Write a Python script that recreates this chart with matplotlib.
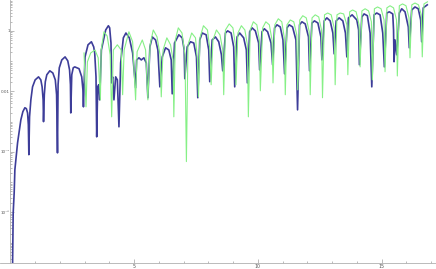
import numpy as np
import matplotlib
matplotlib.use("Agg")
import matplotlib.pyplot as plt
from matplotlib.ticker import FixedLocator, NullFormatter, LogLocator

# Dark blue curve: x values and log10(y) values
blue_x = [
    0.055, 0.089, 0.113, 0.153, 0.181, 0.290, 0.423, 0.504, 0.585, 0.645, 0.694,
    0.726, 0.746,
    0.774, 0.827, 0.895, 1.000, 1.137, 1.230, 1.282, 1.323, 1.339,
    1.371, 1.411, 1.472, 1.593, 1.714, 1.815, 1.867, 1.903,
    1.927, 1.976, 2.077, 2.210, 2.319, 2.391, 2.427, 2.440,
    2.480, 2.540, 2.601, 2.774, 2.883, 2.931, 2.952,
    2.984, 3.016, 3.137, 3.274, 3.367, 3.407, 3.460, 3.488,
    3.528, 3.569, 3.609,
    3.677, 3.851, 3.960, 4.012, 4.065, 4.093,
    4.133, 4.185, 4.254, 4.323, 4.387,
    4.456, 4.565, 4.669, 4.806, 4.940, 5.060,
    5.101, 5.194, 5.290, 5.395, 5.492, 5.556,
    5.637, 5.734, 5.867, 5.960, 6.040,
    6.137, 6.270, 6.403, 6.500, 6.540,
    6.633, 6.806, 6.944, 7.024, 7.048,
    7.145, 7.278, 7.411, 7.520, 7.573,
    7.653, 7.750, 7.911, 8.016, 8.056,
    8.153, 8.286, 8.419, 8.528, 8.581,
    8.690, 8.782, 8.919, 9.024, 9.065,
    9.161, 9.266, 9.427, 9.536, 9.577,
    9.669, 9.766, 9.899, 10.032, 10.073,
    10.169, 10.262, 10.395, 10.532, 10.597,
    10.677, 10.774, 10.907, 11.016, 11.081,
    11.177, 11.270, 11.403, 11.540, 11.605,
    11.685, 11.782, 11.915, 12.048, 12.089,
    12.185, 12.290, 12.427, 12.548, 12.589,
    12.681, 12.790, 12.923, 13.032, 13.085,
    13.165, 13.286, 13.435, 13.540, 13.597,
    13.661, 13.810, 14.000, 14.073, 14.105,
    14.202, 14.294, 14.427, 14.536, 14.605,
    14.698, 14.806, 14.940, 15.048, 15.113,
    15.210, 15.315, 15.452, 15.484, 15.504,
    15.544, 15.613,
    15.718, 15.815, 15.948, 16.081, 16.121,
    16.218, 16.351, 16.484, 16.581, 16.621,
    16.685, 16.794, 16.847,
]
blue_logy = [
    -9.0, -7.66, -6.01, -5.35, -4.59, -3.70, -2.94, -2.67, -2.54, -2.57, -2.71,
    -3.10, -4.09,
    -2.84, -2.28, -1.85, -1.62, -1.52, -1.62, -1.85, -2.28, -3.00,
    -2.11, -1.68, -1.45, -1.32, -1.39, -1.62, -2.11, -4.03,
    -1.78, -1.22, -0.96, -0.86, -0.99, -1.29, -1.78, -2.71,
    -1.45, -1.22, -1.19, -1.25, -1.52, -1.95, -2.51,
    -1.62, -0.86, -0.46, -0.36, -0.53, -0.73, -1.52, -3.50,
    -1.85, -1.78, -2.28,
    -0.63, 0.03, 0.17, 0.10, -0.40, -1.72,
    -1.52, -2.28, -1.52, -1.62, -3.17,
    -1.06, -0.23, -0.07, -0.23, -0.73, -1.88,
    -0.96, -0.89, -0.96, -0.89, -1.06, -2.21,
    -0.53, -0.20, -0.30, -0.63, -1.85,
    -0.86, -0.56, -0.63, -0.96, -2.08,
    -0.40, -0.13, -0.23, -0.63, -1.58,
    -0.53, -0.36, -0.40, -0.86, -2.21,
    -0.30, -0.07, -0.13, -0.63, -1.68,
    -0.30, -0.20, -0.36, -0.79, -1.32,
    -0.07, 0.00, -0.07, -0.53, -1.85,
    -0.20, -0.07, -0.23, -0.63, -1.72,
    -0.03, 0.10, 0.00, -0.40, -1.29,
    -0.03, 0.07, -0.03, -0.40, -1.12,
    0.10, 0.20, 0.13, -0.30, -1.42,
    0.10, 0.20, 0.13, -0.30, -2.61,
    0.20, 0.30, 0.23, -0.20, -1.32,
    0.26, 0.33, 0.26, -0.20, -0.96,
    0.33, 0.43, 0.33, -0.07, -0.76,
    0.33, 0.43, 0.33, -0.07, -0.86,
    0.43, 0.53, 0.36, 0.03, -1.12,
    0.46, 0.56, 0.50, -0.07, -1.85,
    0.53, 0.59, 0.53, -0.07, -1.19,
    0.59, 0.63, 0.56, 0.03, -1.02,
    -0.30, -0.79,
    0.59, 0.73, 0.63, 0.13, -0.56,
    0.69, 0.79, 0.73, 0.36, -0.36,
    0.76, 0.83, 0.86,
]

# Light green curve (starts near x = 3)
green_x = [
    2.976, 3.056,
    3.113, 3.246, 3.419, 3.548, 3.637,
    3.669, 3.782, 3.911, 4.032, 4.093,
    4.161, 4.323, 4.476, 4.536,
    4.597, 4.790, 4.940, 5.060,
    5.121, 5.331, 5.464, 5.556,
    5.645, 5.774, 5.927, 6.048, 6.097,
    6.169, 6.323, 6.472, 6.573, 6.605,
    6.665, 6.786, 6.935, 7.056, 7.113,
    7.177, 7.327, 7.480, 7.560, 7.601,
    7.661, 7.802, 7.964, 8.065, 8.113,
    8.185, 8.327, 8.468, 8.581, 8.621,
    8.690, 8.843, 8.992, 9.093, 9.117,
    9.194, 9.335, 9.476, 9.577, 9.617,
    9.690, 9.819, 9.960, 10.060, 10.101,
    10.194, 10.323, 10.464, 10.573, 10.613,
    10.685, 10.827, 10.968, 11.069, 11.109,
    11.177, 11.310, 11.452, 11.573, 11.613,
    11.694, 11.815, 11.956, 12.077, 12.117,
    12.190, 12.319, 12.460, 12.573, 12.613,
    12.694, 12.823, 12.964, 13.085, 13.125,
    13.198, 13.327, 13.468, 13.597, 13.637,
    13.710, 13.831, 13.972, 14.093, 14.133,
    14.206, 14.335, 14.476, 14.589, 14.629,
    14.710, 14.839, 14.980, 15.101, 15.141,
    15.214, 15.343, 15.484, 15.605, 15.637,
    15.718, 15.847, 15.988, 16.109, 16.149,
    16.222, 16.351, 16.492, 16.605, 16.645,
    16.714, 16.855,
]
green_logy = [
    -0.73, -2.51,
    -1.02, -0.73, -0.63, -0.89, -2.28,
    -0.63, -0.03, -0.17, -0.79, -2.84,
    -0.63, -0.46, -0.63, -2.11,
    -0.63, -0.03, -0.36, -2.28,
    -0.69, -0.30, -0.63, -2.28,
    -0.46, 0.03, -0.20, -0.79, -2.18,
    -0.63, -0.23, -0.46, -0.96, -2.84,
    -0.30, 0.10, -0.07, -0.79, -4.32,
    -0.46, -0.07, -0.23, -0.96, -2.18,
    -0.23, 0.17, 0.03, -0.63, -1.78,
    -0.30, 0.03, -0.13, -0.63, -2.11,
    0.03, 0.23, 0.10, -0.46, -1.78,
    -0.07, 0.17, 0.03, -0.46, -2.84,
    0.03, 0.30, 0.20, -0.30, -1.98,
    0.10, 0.30, 0.20, -0.30, -1.72,
    0.20, 0.40, 0.30, -0.23, -2.11,
    0.20, 0.36, 0.30, -0.13, -1.95,
    0.36, 0.50, 0.43, -0.03, -2.11,
    0.43, 0.53, 0.46, 0.03, -2.21,
    0.53, 0.59, 0.53, 0.10, -1.78,
    0.53, 0.59, 0.56, 0.20, -1.45,
    0.63, 0.69, 0.63, 0.20, -1.19,
    0.66, 0.73, 0.66, 0.30, -1.62,
    0.73, 0.79, 0.73, 0.36, -1.35,
    0.76, 0.83, 0.76, 0.36, -1.49,
    0.83, 0.89, 0.83, 0.43, -0.89,
    0.86, 0.92, 0.86, 0.53, -0.86,
    0.89, 0.96,
]

x_major = [5, 10, 15]
x_minor = [1, 2, 3, 4, 6, 7, 8, 9, 11, 12, 13, 14, 16, 17]
y_major = [1e0, 1e-2, 1e-4, 1e-6]
y_labels = ["1", "0.01", "10\u207b\u2074", "10\u207b\u2076"]

fig = plt.figure(figsize=(4.36, 2.69), dpi=100)
ax = fig.add_axes([0, 6 / 269, 1, 263 / 269])

ax.plot(blue_x, 10 ** np.array(blue_logy), color="#3d3d99", lw=1.2,
        solid_joinstyle="round")
ax.plot(green_x, 10 ** np.array(green_logy), color="#86f086", lw=0.8,
        solid_joinstyle="round")

ax.set_yscale("log")
ax.set_xlim(-0.42, 17.2)
ax.set_ylim(10 ** -7.67, 10 ** 1.02)

# Mathematica-like axes crossing at the origin
for s in ["top", "right"]:
    ax.spines[s].set_visible(False)
ax.spines["left"].set_position(("data", 0))
for s in ["left", "bottom"]:
    ax.spines[s].set_color("#b0b0b0")
    ax.spines[s].set_linewidth(0.6)

ax.xaxis.set_major_locator(FixedLocator(x_major))
ax.xaxis.set_minor_locator(FixedLocator(x_minor))
ax.set_xticklabels([str(v) for v in x_major])

ax.yaxis.set_major_locator(FixedLocator(y_major))
ax.set_yticklabels(y_labels)
ax.yaxis.set_minor_locator(LogLocator(base=10, subs=np.arange(1, 10), numticks=30))
ax.yaxis.set_minor_formatter(NullFormatter())

ax.tick_params(which="both", direction="in", color="#a0a0a0", width=0.5,
               labelcolor="#555555")
ax.tick_params(which="major", length=3)
ax.tick_params(which="minor", length=1.5)
ax.tick_params(axis="y", pad=0.4, labelsize=3.0)
ax.tick_params(axis="x", pad=1, labelsize=3.4)

fig.savefig("out.png", dpi=100)
